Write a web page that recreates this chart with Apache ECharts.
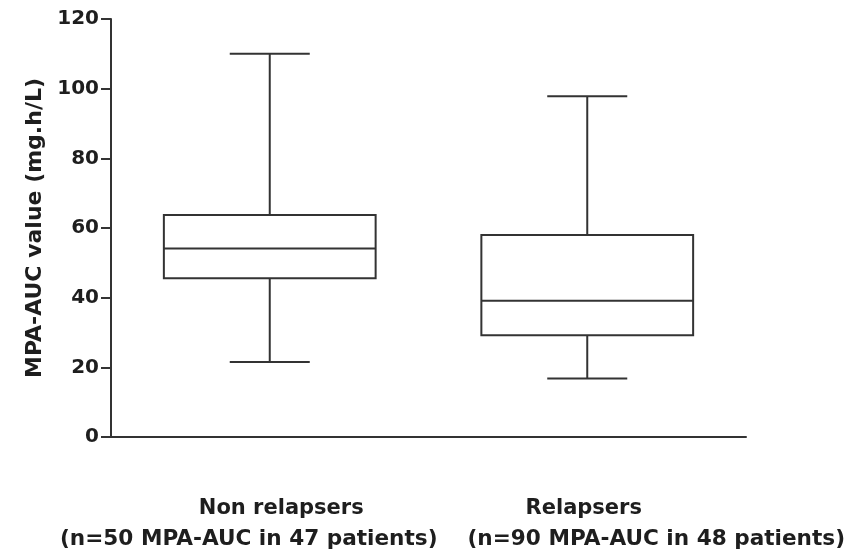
<!DOCTYPE html>
<html>
<head>
<meta charset="utf-8">
<script src="https://cdn.jsdelivr.net/npm/echarts@6/dist/echarts.min.js"></script>
<style>html,body{margin:0;padding:0;background:#fff;}#c{width:864px;height:552px;}</style>
</head>
<body>
<div id="c"></div>
<script>
const categories = ['Non relapsers', 'Relapsers'];
const subLabels = ['(n=50 MPA-AUC in 47 patients)', '(n=90 MPA-AUC in 48 patients)'];
const mins = [21.5, 16.8];
const q1s = [45.6, 29.2];
const medians = [54.1, 39.1];
const q3s = [63.7, 58.0];
const maxs = [110, 97.8];
const yTicks = [0, 20, 40, 60, 80, 100, 120];

const data = categories.map((c, i) => [i, mins[i], q1s[i], medians[i], q3s[i], maxs[i]]);
const LC = '#333';
const TC = '#1e1e1e';
const FONT = 'DejaVu Sans, sans-serif';
const lblA = {color: TC, fontFamily: FONT, fontWeight: 'bold', fontSize: 21, lineHeight: 30};
const lblB = {color: TC, fontFamily: FONT, fontWeight: 'bold', fontSize: 21.6, lineHeight: 30};
const chart = echarts.init(document.getElementById('c'), null, {renderer: 'canvas'});
chart.setOption({
  animation: false,
  grid: {left: 111, right: 118, top: 19, bottom: 115, containLabel: false, outerBoundsMode: 'none'},
  xAxis: {
    type: 'category', data: categories, boundaryGap: true,
    axisLine: {lineStyle: {color: LC, width: 2}},
    axisTick: {alignWithLabel: true, length: 10, lineStyle: {color: LC, width: 2}},
    axisLabel: {
      interval: 0, hideOverlap: false, margin: 57,
      color: TC, fontFamily: FONT, fontWeight: 'bold', fontSize: 21, lineHeight: 30,
      formatter: function (v, i) {
        return '{a' + i + '|' + v + '}\n{b' + i + '|' + subLabels[i] + '}';
      },
      rich: {
        a0: Object.assign({padding: [0, 0, 0, 23]}, lblA),
        b0: Object.assign({padding: [0, 42, 0, 0]}, lblB),
        a1: Object.assign({padding: [0, 7, 0, 0]}, lblA),
        b1: Object.assign({padding: [0, 0, 0, 138]}, lblB)
      }
    }
  },
  yAxis: {
    type: 'value', min: yTicks[0], max: yTicks[yTicks.length - 1], interval: 20,
    name: 'MPA-AUC value (mg.h/L)', nameLocation: 'middle', nameGap: 65,
    nameTextStyle: {color: TC, fontFamily: FONT, fontWeight: 'bold', fontSize: 22},
    axisLine: {show: true, lineStyle: {color: LC, width: 2}},
    axisTick: {show: true, length: 10, lineStyle: {color: LC, width: 2}},
    axisLabel: {color: TC, fontFamily: FONT, fontWeight: 'bold', fontSize: 20, margin: 12},
    splitLine: {show: false}
  },
  series: [{
    type: 'custom',
    data: data,
    encode: {x: 0, y: [1, 2, 3, 4, 5]},
    renderItem: function (params, api) {
      const idx = api.value(0);
      const band = api.size([1, 0])[0];
      const bw = band * 0.667 / 2;
      const cw = band * 0.252 / 2;
      const pMin = api.coord([idx, api.value(1)]);
      const pQ1 = api.coord([idx, api.value(2)]);
      const pMed = api.coord([idx, api.value(3)]);
      const pQ3 = api.coord([idx, api.value(4)]);
      const pMax = api.coord([idx, api.value(5)]);
      const x = pMed[0];
      const st = {stroke: LC, lineWidth: 2, fill: null};
      return {
        type: 'group',
        children: [
          {type: 'rect', shape: {x: x - bw, y: pQ3[1], width: 2 * bw, height: pQ1[1] - pQ3[1]}, style: {stroke: LC, lineWidth: 2, fill: '#fff'}},
          {type: 'line', shape: {x1: x - bw, y1: pMed[1], x2: x + bw, y2: pMed[1]}, style: st},
          {type: 'line', shape: {x1: x, y1: pQ3[1], x2: x, y2: pMax[1]}, style: st},
          {type: 'line', shape: {x1: x, y1: pQ1[1], x2: x, y2: pMin[1]}, style: st},
          {type: 'line', shape: {x1: x - cw, y1: pMax[1], x2: x + cw, y2: pMax[1]}, style: st},
          {type: 'line', shape: {x1: x - cw, y1: pMin[1], x2: x + cw, y2: pMin[1]}, style: st}
        ]
      };
    }
  }]
});
</script>
</body>
</html>
